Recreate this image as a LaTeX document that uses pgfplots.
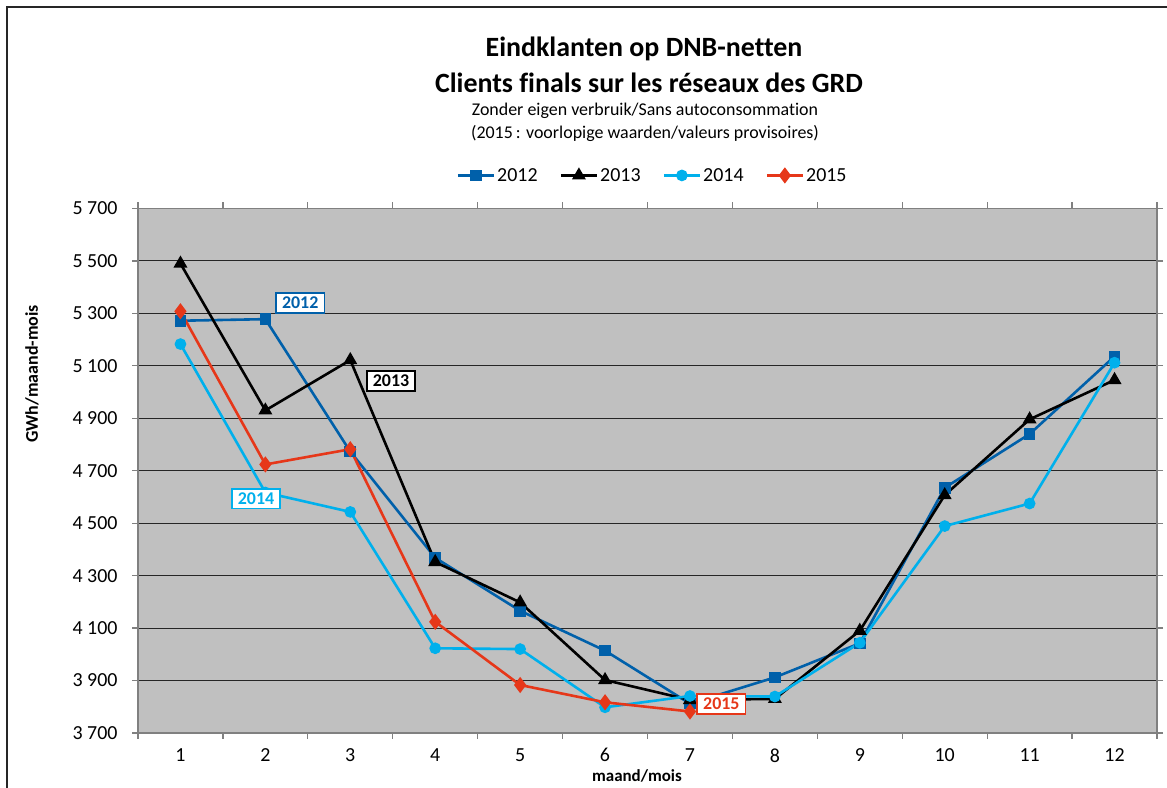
\documentclass[border=0pt]{standalone}
\usepackage{pgfplots}
\pgfplotsset{compat=1.18}
\usepackage{fontspec}
\setmainfont{Carlito}[Ligatures=NoCommon]
\definecolor{bgc}{RGB}{192,192,192}
\definecolor{c12}{RGB}{0,96,170}
\definecolor{c14}{RGB}{0,176,236}
\definecolor{c15}{RGB}{230,55,25}
\definecolor{axg}{RGB}{128,128,128}
\begin{document}
\begin{tikzpicture}[x=1bp,y=1bp]
\path[use as bounding box] (0,0) rectangle (1167,788);
\draw[line width=1.5bp, black!85] (7,0) -- (7,781) -- (1167,781);
\node[font=\fontsize{28}{33}\selectfont\bfseries] at (644,739) {Eindklanten op DNB-netten};
\node[font=\fontsize{28}{33}\selectfont\bfseries] at (649,705) {Clients finals sur les réseaux des GRD};
\node[font=\fontsize{18}{21}\selectfont] at (645,677) {Zonder eigen verbruik/Sans autoconsommation};
\node[font=\fontsize{18}{21}\selectfont] at (645,655) {(2015\,: voorlopige waarden/valeurs provisoires)};
\node[font=\fontsize{18}{21}\selectfont\bfseries, rotate=90] at (32,414) {GWh/maand-mois};
\node[font=\fontsize{17}{20}\selectfont\bfseries] at (637,12) {maand/mois};
\begin{axis}[
  at={(138bp,55bp)}, anchor=south west,
  scale only axis, width=1019bp, height=524.5bp,
  xmin=0.5, xmax=12.5, ymin=3700, ymax=5700,
  axis background/.style={fill=bgc},
  axis line style={draw=axg, line width=1.5bp},
  ytick={3700,3900,...,5700},
  yticklabels={3 700,3 900,4 100,4 300,4 500,4 700,4 900,5 100,5 300,5 500,5 700},
  ymajorgrids, major grid style={black!85, line width=1bp},
  tick align=outside, major tick length=6bp,
  tick style={draw=axg, line width=1.2bp},
  xtick={0.5,1.5,...,12.5}, xticklabels={},
  extra x ticks={1,2,3,4,5,6,7,8,9,10,11,12},
  extra x tick labels={1,2,3,4,5,6,7,8,9,10,11,12},
  extra x tick style={major tick length=0pt, grid=none},
  ticklabel style={font=\fontsize{20}{24}\selectfont},
  yticklabel style={xshift=-11bp},
  xticklabel style={yshift=-12bp},
  legend style={at={(axis description cs:0.505,1.063)}, anchor=center, legend columns=-1,
    draw=none, fill=none, font=\fontsize{20}{24}\selectfont,
    /tikz/every even column/.append style={column sep=20bp}},
  legend image code/.code={\draw[mark repeat=2,mark phase=2,#1] plot coordinates {(0bp,0bp) (18bp,0bp) (36bp,0bp)};},
  every axis plot/.append style={line width=2.6bp},
  clip=false,
]
\addplot[c12, mark=square*, mark size=4.5bp, mark options={solid}] coordinates {
(1,5272) (2,5278) (3,4773) (4,4368) (5,4166) (6,4014) (7,3812) (8,3912) (9,4042) (10,4635) (11,4840) (12,5136)};
\addlegendentry{2012}
\addplot[black, mark=triangle*, mark size=5.5bp] coordinates {
(1,5490) (2,4930) (3,5122) (4,4352) (5,4198) (6,3902) (7,3826) (8,3830) (9,4090) (10,4607) (11,4896) (12,5046)};
\addlegendentry{2013}
\addplot[c14, mark=*, mark size=4.5bp] coordinates {
(1,5183) (2,4617) (3,4543) (4,4023) (5,4020) (6,3798) (7,3841) (8,3839) (9,4044) (10,4489) (11,4575) (12,5112)};
\addlegendentry{2014}
\addplot[c15, mark=diamond*, mark size=6bp] coordinates {
(1,5308) (2,4724) (3,4782) (4,4124) (5,3883) (6,3817) (7,3782)};
\addlegendentry{2015}
\coordinate (L12) at (axis cs:2.41,5340);
\coordinate (L13) at (axis cs:3.48,5042);
\coordinate (L14) at (axis cs:1.89,4593);
\coordinate (L15) at (axis cs:7.37,3811);
\end{axis}
\tikzset{lbl/.style={fill=white, line width=1.5bp, font=\fontsize{18}{21}\selectfont\bfseries, inner xsep=6bp, inner ysep=4bp}}
\node[lbl, draw=c12, text=c12] at (L12) {2012};
\node[lbl, draw=black, text=black] at (L13) {2013};
\node[lbl, draw=c14, text=c14] at (L14) {2014};
\node[lbl, draw=c15, text=c15] at (L15) {2015};
\end{tikzpicture}
\end{document}
